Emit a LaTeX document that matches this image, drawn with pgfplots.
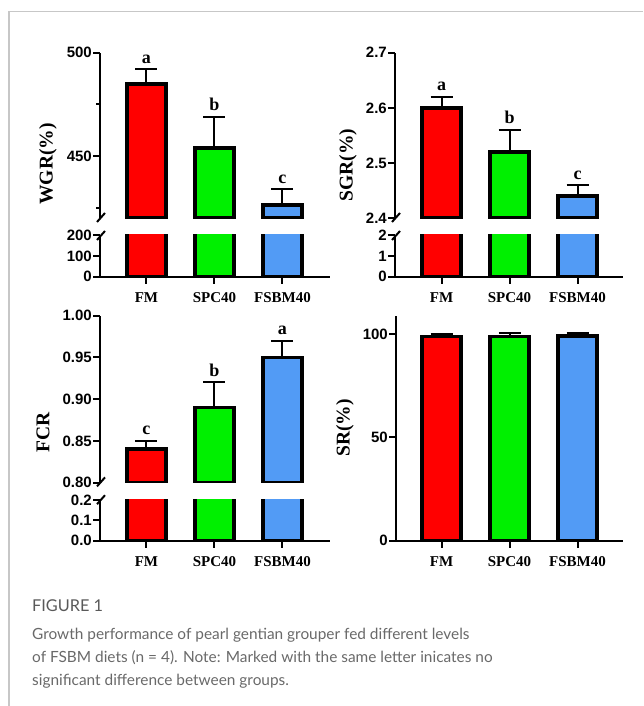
\documentclass[border=0pt]{standalone}
\usepackage{fontspec}
\setmainfont{Liberation Serif}
\newfontfamily\arialf{Liberation Sans}
\newfontfamily\capf{Lato}
\usepackage{pgfplots}
\pgfplotsset{compat=1.18}
\definecolor{gpred}{RGB}{255,0,0}
\definecolor{gpgreen}{RGB}{0,240,0}
\definecolor{gpblue}{RGB}{82,155,245}
\definecolor{capgray}{RGB}{105,105,105}

\pgfplotsset{
  gpbase/.style={
    scale only axis, enlargelimits=false,
    axis line style={line width=2pt,-},
    every outer x axis line/.append style={-},
    every outer y axis line/.append style={-},
    every inner x axis line/.append style={-},
    every inner y axis line/.append style={-},
    x axis line style={-}, y axis line style={-},
    every tick/.style={line width=2pt, black},
    major tick length=7pt, minor tick length=4pt,
    tick align=outside,
    yticklabel style={font=\arialf\bfseries\fontsize{15}{15}\selectfont, inner sep=1pt},
    xticklabel style={font=\bfseries\fontsize{15}{15}\selectfont, yshift=-5pt},
    /pgf/number format/assume math mode=true,
  },
  gpupper/.style={axis x line=none, axis y line=left, gpbase, xtick=\empty},
  gplower/.style={axis x line=bottom, axis y line=left, gpbase, xtick={0,1,2}, xticklabels={FM,SPC40,FSBM40}},
  gpbar/.style={ybar, bar shift=0pt, bar width=39pt, draw=black, line width=3.6pt,
     error bars/y dir=plus, error bars/y explicit,
     error bars/error bar style={line width=2pt, black},
     error bars/error mark=-,
     error bars/error mark options={rotate=90, line width=2pt, black, mark size=11pt}},
  gplet/.style={draw=none, mark=none, nodes near coords, point meta=explicit symbolic,
     every node near coord/.style={font=\bfseries\fontsize{18}{18}\selectfont, anchor=base, yshift=6pt, inner sep=0pt}},
}

\begin{document}
\begin{tikzpicture}[x=1pt,y=1pt]
\path[use as bounding box] (0,0) rectangle (643,706);
\draw[black!22, line width=1.3pt] (9,0) -- (9,694.5) -- (643,694.5);

% ---------- WGR ----------
\begin{axis}[gpupper, at={(100pt,487.7pt)}, anchor=south west, width=230pt, height=165.6pt,
  xmin=-0.684, xmax=2.70, ymin=420, ymax=500, ytick={450,500}, minor ytick={425,475}]
\addplot[fill=gpred, gpbar] coordinates {(0,485) +- (0,7)};
\addplot[fill=gpgreen, gpbar] coordinates {(1,454) +- (0,15)};
\addplot[fill=gpblue, gpbar] coordinates {(2,426.5) +- (0,7.5)};
\addplot[gplet] coordinates {(0,492)[a] (1,469)[b] (2,434)[c]};
\end{axis}
\begin{axis}[gplower, at={(100pt,429.3pt)}, anchor=south west, width=230pt, height=41.7pt,
  xmin=-0.684, xmax=2.70, ymin=0, ymax=200, ytick={0,100,200}]
\addplot[fill=gpred, gpbar] coordinates {(0,485) +- (0,7)};
\addplot[fill=gpgreen, gpbar] coordinates {(1,454) +- (0,15)};
\addplot[fill=gpblue, gpbar] coordinates {(2,426.5) +- (0,7.5)};
\end{axis}
\draw[line width=2pt] (97,484) -- (105,493);
\draw[line width=2pt] (97,466) -- (105,475);
\node[rotate=90, font=\bfseries\fontsize{19.5}{19.5}\selectfont] at (48,542) {WGR(\%)};

% ---------- SGR ----------
\begin{axis}[gpupper, at={(395pt,487.7pt)}, anchor=south west, width=228pt, height=165.6pt,
  xmin=-0.684, xmax=2.669, ymin=2.4, ymax=2.7, ytick={2.4,2.5,2.6,2.7}, yticklabels={2.4,2.5,2.6,2.7}]
\addplot[fill=gpred, gpbar] coordinates {(0,2.60) +- (0,0.02)};
\addplot[fill=gpgreen, gpbar] coordinates {(1,2.52) +- (0,0.04)};
\addplot[fill=gpblue, gpbar] coordinates {(2,2.44) +- (0,0.02)};
\addplot[gplet] coordinates {(0,2.62)[a] (1,2.56)[b] (2,2.46)[c]};
\end{axis}
\begin{axis}[gplower, at={(395pt,429.3pt)}, anchor=south west, width=228pt, height=41.7pt,
  xmin=-0.684, xmax=2.669, ymin=0, ymax=2, ytick={0,1,2}]
\addplot[fill=gpred, gpbar] coordinates {(0,2.60) +- (0,0.02)};
\addplot[fill=gpgreen, gpbar] coordinates {(1,2.52) +- (0,0.04)};
\addplot[fill=gpblue, gpbar] coordinates {(2,2.44) +- (0,0.02)};
\end{axis}
\draw[line width=2pt] (392,484) -- (400,493);
\draw[line width=2pt] (392,466) -- (400,475);
\node[rotate=90, font=\bfseries\fontsize{19.5}{19.5}\selectfont] at (348,541) {SGR(\%)};

% ---------- FCR ----------
\begin{axis}[gpupper, at={(100pt,223.3pt)}, anchor=south west, width=230pt, height=167pt,
  xmin=-0.684, xmax=2.70, ymin=0.8, ymax=1.0, ytick={0.8,0.85,0.9,0.95,1.0},
  yticklabels={0.80,0.85,0.90,0.95,1.00}]
\addplot[fill=gpred, gpbar] coordinates {(0,0.84) +- (0,0.01)};
\addplot[fill=gpgreen, gpbar] coordinates {(1,0.89) +- (0,0.03)};
\addplot[fill=gpblue, gpbar] coordinates {(2,0.95) +- (0,0.02)};
\addplot[gplet] coordinates {(0,0.85)[c] (1,0.92)[b] (2,0.97)[a]};
\end{axis}
\begin{axis}[gplower, at={(100pt,165.3pt)}, anchor=south west, width=230pt, height=40.7pt,
  xmin=-0.684, xmax=2.70, ymin=0, ymax=0.2, ytick={0,0.1,0.2}, yticklabels={0.0,0.1,0.2}]
\addplot[fill=gpred, gpbar] coordinates {(0,0.84) +- (0,0.01)};
\addplot[fill=gpgreen, gpbar] coordinates {(1,0.89) +- (0,0.03)};
\addplot[fill=gpblue, gpbar] coordinates {(2,0.95) +- (0,0.02)};
\end{axis}
\draw[line width=2pt] (97,219.6) -- (105,228.6);
\draw[line width=2pt] (97,201.8) -- (105,210.8);
\node[rotate=90, font=\bfseries\fontsize{19.5}{19.5}\selectfont] at (43,274) {FCR};

% ---------- SR ----------
\begin{axis}[gplower, at={(396pt,165.3pt)}, anchor=south west, width=227pt, height=224.7pt,
  xmin=-0.669, xmax=2.669, ymin=0, ymax=108.7, ytick={0,50,100}]
\addplot[fill=gpred, gpbar] coordinates {(0,98.8) +- (0,1.3)};
\addplot[fill=gpgreen, gpbar] coordinates {(1,98.8) +- (0,1.9)};
\addplot[fill=gpblue, gpbar] coordinates {(2,99.0) +- (0,1.3)};
\end{axis}
\node[rotate=90, font=\bfseries\fontsize{19.5}{19.5}\selectfont] at (345,278) {SR(\%)};

% ---------- caption ----------
\node[anchor=base west, inner sep=0pt, text=black!65, font=\capf\fontsize{16.3}{16.3}\selectfont] at (32,94.3) {FIGURE 1};
\node[anchor=base west, inner sep=0pt, text=capgray, font=\capf\fontsize{15.4}{15.4}\selectfont] at (32,66) {Growth performance of pearl gentian grouper fed different levels};
\node[anchor=base west, inner sep=0pt, text=capgray, font=\capf\fontsize{15.4}{15.4}\selectfont] at (32,43) {of FSBM diets (n = 4). Note: Marked with the same letter inicates no};
\node[anchor=base west, inner sep=0pt, text=capgray, font=\capf\fontsize{15.4}{15.4}\selectfont] at (32,20.5) {significant difference between groups.};
\end{tikzpicture}
\end{document}
